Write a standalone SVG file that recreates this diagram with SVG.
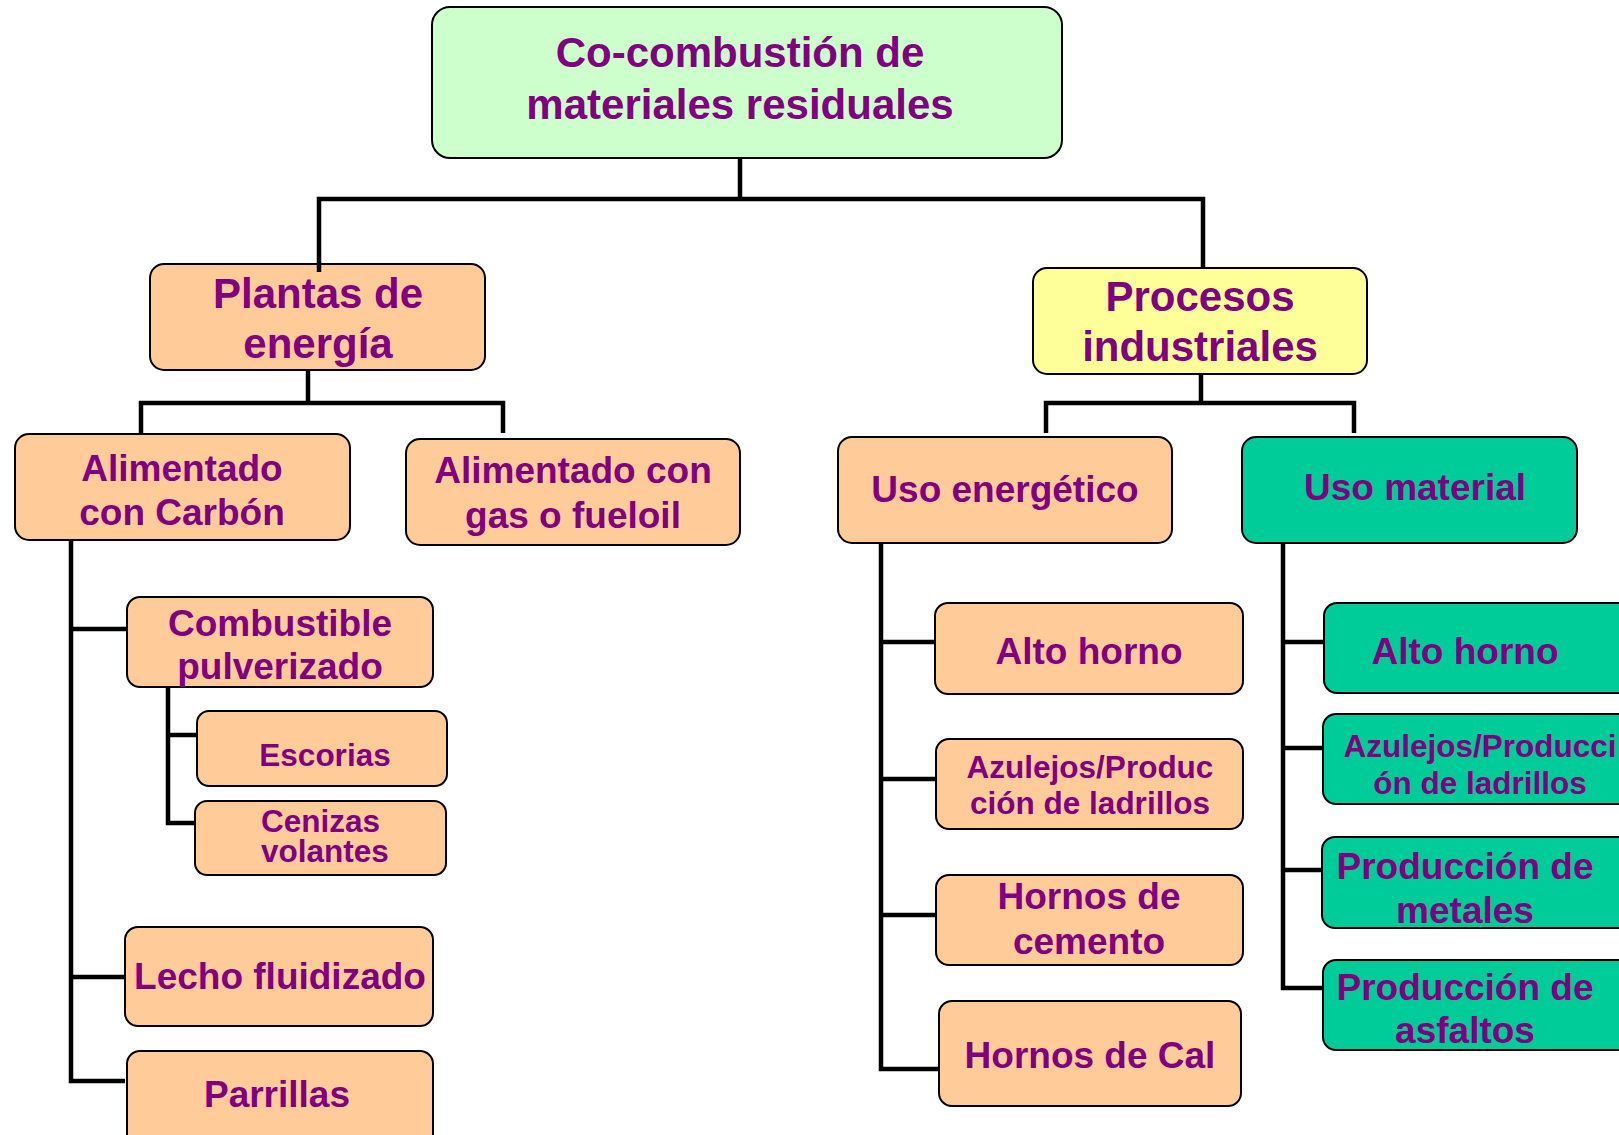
<svg xmlns="http://www.w3.org/2000/svg" width="1619" height="1135" viewBox="0 0 1619 1135">
<style>
.box{stroke:#000;stroke-width:2}
.o{fill:#FFCC99}.g{fill:#CCFFCC}.y{fill:#FFFF99}.t{fill:#00CC99}
text{font-family:"Liberation Sans",Arial,sans-serif;font-weight:bold;fill:#800080;text-anchor:middle}
.f42{font-size:42px}.f37{font-size:37px}.f31{font-size:31.5px}
.c{fill:none;stroke:#000;stroke-width:4.5;stroke-linejoin:miter}
</style>
<rect width="1619" height="1135" fill="#fff"/>
<g id="root"><rect class="box g" x="432" y="7" width="630" height="151" rx="18"/><text class="f42" x="740" y="67">Co-combustión de</text><text class="f42" x="740" y="119">materiales residuales</text></g>
<g id="plantas"><rect class="box o" x="150" y="264" width="335" height="106" rx="14"/><text class="f42" x="318" y="308">Plantas de</text><text class="f42" x="318" y="358">energía</text></g>
<g id="procesos"><rect class="box y" x="1033" y="268" width="334" height="106" rx="14"/><text class="f42" x="1200" y="311">Procesos</text><text class="f42" x="1200" y="361">industriales</text></g>
<g id="carbon"><rect class="box o" x="15" y="434" width="335" height="106" rx="14"/><text class="f37" x="182" y="481">Alimentado</text><text class="f37" x="182" y="525">con Carbón</text></g>
<g id="gas"><rect class="box o" x="406" y="439" width="334" height="106" rx="14"/><text class="f37" x="573" y="483">Alimentado con</text><text class="f37" x="573" y="528">gas o fueloil</text></g>
<g id="uso-energetico"><rect class="box o" x="838" y="437" width="334" height="106" rx="14"/><text class="f37" x="1005" y="502">Uso energético</text></g>
<g id="uso-material"><rect class="box t" x="1242" y="437" width="335" height="106" rx="14"/><text class="f37" x="1415" y="500">Uso material</text></g>
<g id="combustible"><rect class="box o" x="127" y="597" width="306" height="90" rx="13"/><text class="f37" x="280" y="636">Combustible</text><text class="f37" x="280" y="679">pulverizado</text></g>
<g id="escorias"><rect class="box o" x="197" y="711" width="250" height="75" rx="12"/><text class="f31" x="325" y="766">Escorias</text></g>
<g id="cenizas"><rect class="box o" x="195" y="801" width="251" height="74" rx="12"/><text class="f31" x="261" y="832" style="text-anchor:start">Cenizas</text><text class="f31" x="261" y="862" style="text-anchor:start">volantes</text></g>
<g id="lecho"><rect class="box o" x="125" y="927" width="308" height="99" rx="13"/><text class="f37" x="280" y="989">Lecho fluidizado</text></g>
<g id="parrillas"><rect class="box o" x="127" y="1051" width="306" height="100" rx="13"/><text class="f37" x="277" y="1107">Parrillas</text></g>
<g id="e-alto"><rect class="box o" x="935" y="603" width="308" height="91" rx="13"/><text class="f37" x="1089" y="664">Alto horno</text></g>
<g id="e-azulejos"><rect class="box o" x="936" y="739" width="307" height="90" rx="13"/><text class="f31" x="1090" y="778">Azulejos/Produc</text><text class="f31" x="1090" y="814">ción de ladrillos</text></g>
<g id="e-cemento"><rect class="box o" x="936" y="875" width="307" height="90" rx="13"/><text class="f37" x="1089" y="909">Hornos de</text><text class="f37" x="1089" y="954">cemento</text></g>
<g id="e-cal"><rect class="box o" x="939" y="1001" width="302" height="105" rx="13"/><text class="f37" x="1090" y="1068">Hornos de Cal</text></g>
<g id="m-alto"><rect class="box t" x="1324" y="603" width="320" height="90" rx="13"/><text class="f37" x="1465" y="664">Alto horno</text></g>
<g id="m-azulejos"><rect class="box t" x="1323" y="714" width="320" height="90" rx="13"/><text class="f31" x="1480" y="757">Azulejos/Producci</text><text class="f31" x="1480" y="794">ón de ladrillos</text></g>
<g id="m-metales"><rect class="box t" x="1322" y="837" width="320" height="91" rx="13"/><text class="f37" x="1465" y="879">Producción de</text><text class="f37" x="1465" y="923">metales</text></g>
<g id="m-asfaltos"><rect class="box t" x="1323" y="960" width="320" height="90" rx="13"/><text class="f37" x="1465" y="1000">Producción de</text><text class="f37" x="1465" y="1043">asfaltos</text></g>
<g id="connectors" class="c">
<path d="M740 158V199"/><path d="M319 272V199H1203V268"/>
<path d="M308 370V403"/><path d="M141 433V403H503V433"/>
<path d="M1201 374V403"/><path d="M1046 433V403H1354V433"/>
<path d="M71 540V1081H125"/><path d="M71 629H127"/><path d="M71 977H125"/>
<path d="M168 687V823H195"/><path d="M168 735H197"/>
<path d="M881 543V1069H939"/><path d="M881 642H935"/><path d="M881 779H936"/><path d="M881 915H936"/>
<path d="M1283 543V988H1323"/><path d="M1283 642H1324"/><path d="M1283 748H1323"/><path d="M1283 870H1322"/>
</g>
</svg>
